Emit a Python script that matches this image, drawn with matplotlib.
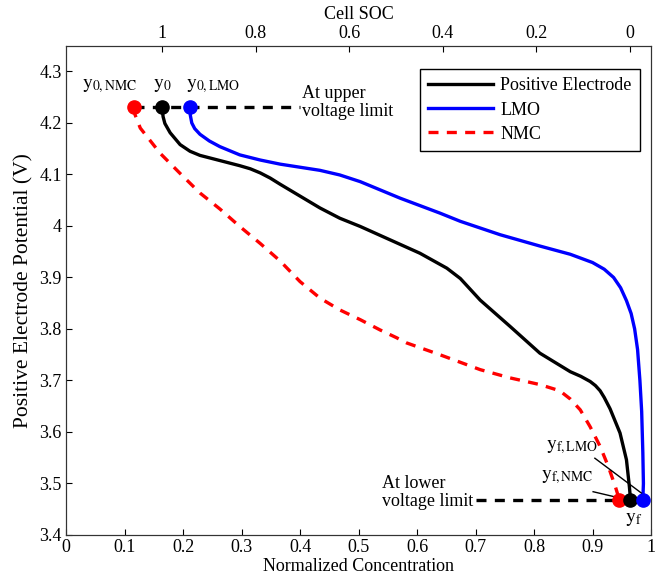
import numpy as np
import matplotlib
matplotlib.use('Agg')
import matplotlib.pyplot as plt
from matplotlib.ticker import FuncFormatter

plt.rcParams['font.family'] = ['Liberation Serif', 'DejaVu Serif']
plt.rcParams['mathtext.fontset'] = 'stix'
plt.rcParams['font.size'] = 13

# curves (normalized concentration, potential in V)
pos_x = [0.164, 0.166, 0.169, 0.178, 0.195, 0.212, 0.229, 0.263, 0.297, 0.315,
         0.332, 0.349, 0.366, 0.400, 0.434, 0.468, 0.503, 0.554, 0.605, 0.651,
         0.674, 0.708, 0.759, 0.810, 0.862, 0.880, 0.896, 0.905, 0.913, 0.920,
         0.930, 0.947, 0.958, 0.963, 0.965]
pos_v = [4.230, 4.212, 4.199, 4.181, 4.158, 4.145, 4.137, 4.127, 4.117, 4.111,
         4.103, 4.093, 4.081, 4.058, 4.035, 4.015, 3.999, 3.973, 3.947, 3.918,
         3.898, 3.856, 3.805, 3.753, 3.717, 3.708, 3.698, 3.690, 3.680, 3.667,
         3.645, 3.598, 3.546, 3.494, 3.468]

lmo_x = [0.212, 0.2125, 0.215, 0.220, 0.229, 0.245, 0.263, 0.297, 0.332, 0.366,
         0.400, 0.434, 0.468, 0.503, 0.571, 0.639, 0.674, 0.742, 0.810, 0.862,
         0.900, 0.920, 0.936, 0.948, 0.958, 0.966, 0.972, 0.977, 0.981, 0.984,
         0.986, 0.987, 0.986]
lmo_v = [4.230, 4.215, 4.200, 4.189, 4.178, 4.165, 4.154, 4.138, 4.128, 4.120,
         4.114, 4.108, 4.099, 4.086, 4.054, 4.025, 4.009, 3.983, 3.961, 3.945,
         3.929, 3.916, 3.900, 3.880, 3.855, 3.830, 3.800, 3.760, 3.700, 3.640,
         3.560, 3.500, 3.468]

nmc_x = [0.116, 0.118, 0.127, 0.161, 0.195, 0.229, 0.263, 0.297, 0.332, 0.366,
         0.400, 0.434, 0.468, 0.503, 0.537, 0.565, 0.582, 0.639, 0.708, 0.759,
         0.810, 0.844, 0.862, 0.879, 0.896, 0.913, 0.927, 0.939, 0.946]
nmc_v = [4.230, 4.216, 4.190, 4.141, 4.102, 4.064, 4.033, 3.999, 3.966, 3.932,
         3.892, 3.860, 3.837, 3.818, 3.798, 3.783, 3.773, 3.750, 3.721, 3.705,
         3.692, 3.680, 3.664, 3.643, 3.610, 3.572, 3.533, 3.494, 3.468]

v_upper = 4.23
v_lower = 3.468
y0 = {'NMC': 0.116, 'pos': 0.164, 'LMO': 0.212}
yf = {'NMC': 0.946, 'pos': 0.964, 'LMO': 0.986}

fig = plt.figure(figsize=(6.6, 5.82), dpi=100)
ax = fig.add_axes([0.1, 0.0808, 0.8864, 0.8407])

lw = 2.4
# voltage limit lines
ax.plot([y0['NMC'], 0.40], [v_upper, v_upper], color='k', lw=lw, dashes=(3.0, 2.5), zorder=2)
ax.plot([0.70, yf['LMO']], [v_lower, v_lower], color='k', lw=lw, dashes=(3.0, 2.5), zorder=2)

ax.plot(pos_x, pos_v, color='k', lw=lw, label='Positive Electrode', zorder=3)
ax.plot(lmo_x, lmo_v, color='b', lw=lw, label='LMO', zorder=3)
ax.plot(nmc_x, nmc_v, color='r', lw=lw, dashes=(3.0, 2.5), label='NMC', zorder=3)

for key, c in [('NMC', 'r'), ('pos', 'k'), ('LMO', 'b')]:
    ax.plot(y0[key], v_upper, 'o', color=c, ms=9.5, zorder=5)
    ax.plot(yf[key], v_lower, 'o', color=c, ms=9.5, zorder=5)

# labels
sub = 14
ax.text(0.121, 4.272, r'$\mathrm{y}_{0,\mathrm{NMC}}$', ha='right', va='center', fontsize=sub)
ax.text(0.165, 4.272, r'$\mathrm{y}_{0}$', ha='center', va='center', fontsize=sub)
ax.text(0.205, 4.272, r'$\mathrm{y}_{0,\mathrm{LMO}}$', ha='left', va='center', fontsize=sub)
ax.text(0.403, 4.240, 'At upper\nvoltage limit', ha='left', va='center', linespacing=1.1)

ax.text(0.820, 3.571, r'$\mathrm{y}_{\mathrm{f,LMO}}$', ha='left', va='center', fontsize=sub)
ax.text(0.812, 3.512, r'$\mathrm{y}_{\mathrm{f,NMC}}$', ha='left', va='center', fontsize=sub)
ax.text(0.955, 3.431, r'$\mathrm{y}_{\mathrm{f}}$', ha='left', va='center', fontsize=sub)
ax.text(0.541, 3.483, 'At lower\nvoltage limit', ha='left', va='center', linespacing=1.1)

ax.plot([0.904, 0.984], [3.549, 3.481], color='k', lw=1, zorder=4)
ax.plot([0.901, 0.942], [3.484, 3.473], color='k', lw=1, zorder=4)

ax.set_xlim(0, 1)
ax.set_ylim(3.4, 4.35)
ax.set_xticks(np.arange(0, 1.01, 0.1))
ax.set_yticks(np.arange(3.4, 4.31, 0.1))
fmt = FuncFormatter(lambda v, p: '%g' % round(v, 2))
ax.xaxis.set_major_formatter(fmt)
ax.yaxis.set_major_formatter(fmt)
ax.tick_params(direction='in', length=4, width=0.8, colors='k', pad=3)
ax.set_xlabel('Normalized Concentration', labelpad=1)
ax.set_ylabel('Positive Electrode Potential (V)', fontsize=15.5, labelpad=4)
for s in ax.spines.values():
    s.set_color('#333333')
    s.set_linewidth(0.8)

# cell SOC on top: SOC = 1 at y0, 0 at yf
ax2 = ax.twiny()
soc = lambda x: (yf['pos'] - x) / (yf['pos'] - y0['pos'])
ax2.set_xlim(soc(0), soc(1))
ax2.set_xticks([0, 0.2, 0.4, 0.6, 0.8, 1])
ax2.xaxis.set_major_formatter(fmt)
ax2.tick_params(direction='in', length=4, width=0.8, pad=3)
ax2.set_xlabel('Cell SOC', labelpad=4)
for s in ax2.spines.values():
    s.set_color('#333333')
    s.set_linewidth(0.8)

leg = ax.legend(loc='upper right', bbox_to_anchor=(0.981, 0.952), borderaxespad=0,
                fancybox=False, edgecolor='k', framealpha=1, handlelength=3.6,
                handletextpad=0.4, labelspacing=0.4, borderpad=0.45, fontsize=13)
leg.get_frame().set_linewidth(1.0)

fig.savefig('out.png', dpi=100)
